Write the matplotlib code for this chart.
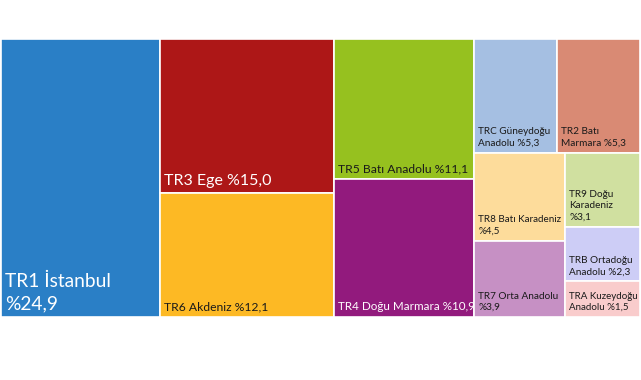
import matplotlib
matplotlib.use("Agg")
import matplotlib.pyplot as plt
from matplotlib.patches import Rectangle

# regional shares (%), reference order
names = ["TR1 İstanbul\n", "TR3 Ege ", "TR6 Akdeniz ", "TR5 Batı Anadolu ",
         "TR4 Doğu Marmara ", "TRC Güneydoğu\nAnadolu ", "TR2 Batı\nMarmara ",
         "TR8 Batı Karadeniz\n", "TR7 Orta Anadolu\n", "TR9 Doğu\nKaradeniz\n",
         "TRB Ortadoğu\nAnadolu ", "TRA Kuzeydoğu\nAnadolu "]
values = [24.9, 15.0, 12.1, 11.1, 10.9, 5.3, 5.3, 4.5, 3.9, 3.1, 2.3, 1.5]
colors = ["#2a7fc6", "#ad1717", "#fdb924", "#96c11f", "#921a7d", "#a5bfe2",
          "#d98a74", "#fddc9b", "#c690c4", "#d0e0a0", "#cdcdf6", "#f9cccc"]
text_colors = ["white", "white", "#1a1a1a", "#1a1a1a", "white", "#1a1a1a",
               "#1a1a1a", "#1a1a1a", "#1a1a1a", "#1a1a1a", "#1a1a1a", "#1a1a1a"]
font_sizes = [13.8, 11.5, 8.7, 8.7, 8.4, 7.2, 7.2, 7.1, 7.2, 7.2, 7.2, 7.0]


def worst(row, side):
    s = sum(row)
    return max(max(side * side * r / (s * s), s * s / (side * side * r)) for r in row)


def squarify(areas, x, y, w, h):
    # squarified treemap, y measured downward from the top
    rects = []
    areas = list(areas)
    while areas:
        side = min(w, h)
        row = [areas.pop(0)]
        while areas and worst(row + [areas[0]], side) <= worst(row, side):
            row.append(areas.pop(0))
        s = sum(row)
        if w >= h:
            cw = s / h
            cy = y
            for a in row:
                rh = a / cw
                rects.append((x, cy, cw, rh))
                cy += rh
            x += cw
            w -= cw
        else:
            rh = s / w
            cx = x
            for a in row:
                rw = a / rh
                rects.append((cx, y, rw, rh))
                cx += rw
            y += rh
            h -= rh
    return rects


W, H = 639.0, 278.0
total = sum(values)
areas = [v / total * W * H for v in values]
rects = squarify(areas, 0, 0, W, H)

plt.rcParams["font.family"] = ["Lato", "DejaVu Sans"]

fig = plt.figure(figsize=(6.41, 3.80), dpi=100)
ax = fig.add_axes([1 / 641, 63 / 380, 639 / 641, 278 / 380])
ax.set_xlim(0, W)
ax.set_ylim(H, 0)
ax.axis("off")

for (rx, ry, rw, rh), n, v, c, tc, fs in zip(rects, names, values, colors,
                                             text_colors, font_sizes):
    ax.add_patch(Rectangle((rx, ry), rw, rh, facecolor=c, edgecolor="white",
                           linewidth=1.2))
    label = n + "%" + f"{v:.1f}".replace(".", ",")
    ax.text(rx + 4, ry + rh - 5, label, color=tc, fontsize=fs,
            ha="left", va="bottom", linespacing=1.35)

fig.savefig("out.png", dpi=100)
